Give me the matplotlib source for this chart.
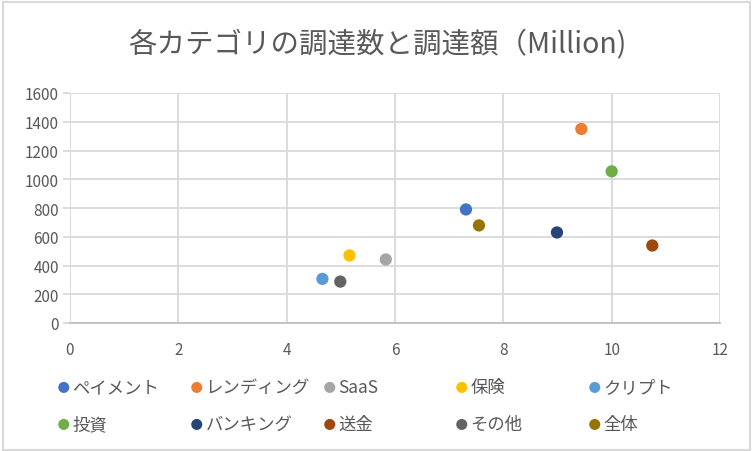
import matplotlib.pyplot as plt
from matplotlib.patches import Rectangle

plt.rcParams['font.family'] = ['Noto Sans CJK JP', 'DejaVu Sans']

categories = ['ペイメント', 'レンディング', 'SaaS', '保険', 'クリプト',
              '投資', 'バンキング', '送金', 'その他', '全体']
counts = [7.31, 9.44, 5.83, 5.16, 4.66, 10.0, 8.99, 10.75, 4.99, 7.55]
amounts = [790, 1350, 442, 470, 307, 1055, 630, 539, 288, 679]
colors = ['#4472C4', '#ED7D31', '#A5A5A5', '#FFC000', '#5B9BD5',
          '#70AD47', '#264478', '#9E480E', '#636363', '#997300']

W, H = 752, 452
fig = plt.figure(figsize=(W / 100, H / 100), dpi=100)
ax = fig.add_axes([70 / W, 1 - 324 / H, 650 / W, 230 / H])

handles = []
for x, y, c in zip(counts, amounts, colors):
    h = ax.scatter([x], [y], s=78, color=c, edgecolors='none', zorder=3)
    handles.append(h)

ax.set_xlim(0, 12)
ax.set_ylim(0, 1600)
ax.set_xticks(range(0, 13, 2))
ax.set_yticks(range(0, 1601, 200))
ax.grid(True, color='#D9D9D9', linewidth=1.3)
ax.set_axisbelow(True)
for side in ['top', 'right', 'left']:
    ax.spines[side].set_visible(False)
ax.spines['bottom'].set_color('#BFBFBF')
ax.spines['bottom'].set_linewidth(1.3)
ax.tick_params(axis='y', length=5, width=1.3, color='#D9D9D9',
               labelsize=11, labelcolor='#595959', pad=3)
ax.tick_params(axis='x', length=0, labelsize=11, labelcolor='#595959', pad=13)

fig.text(377 / W, 1 - 45 / H, '各カテゴリの調達数と調達額（Million)',
         ha='center', va='center', fontsize=20.5, color='#595959')

# legend laid out like Excel: 5 equal columns, 2 rows
col_x = [55, 188, 321, 453, 586]
row_y = [388, 425]
for i, (h, lab) in enumerate(zip(handles, categories)):
    cx = col_x[i % 5]
    cy = row_y[i // 5]
    fig.legend([h], [lab], loc='center left',
               bbox_to_anchor=((cx - 6) / W, 1 - cy / H),
               frameon=False, borderpad=0, handlelength=0.7,
               handletextpad=0.15, fontsize=12.5, labelcolor='#595959',
               markerscale=0.9, scatterpoints=1)

fig.add_artist(Rectangle((2.5 / W, 1.5 / H), 747 / W, 448 / H,
                         transform=fig.transFigure, fill=False,
                         edgecolor='#D9D9D9', linewidth=1.5))

fig.savefig('out.png', dpi=100)
